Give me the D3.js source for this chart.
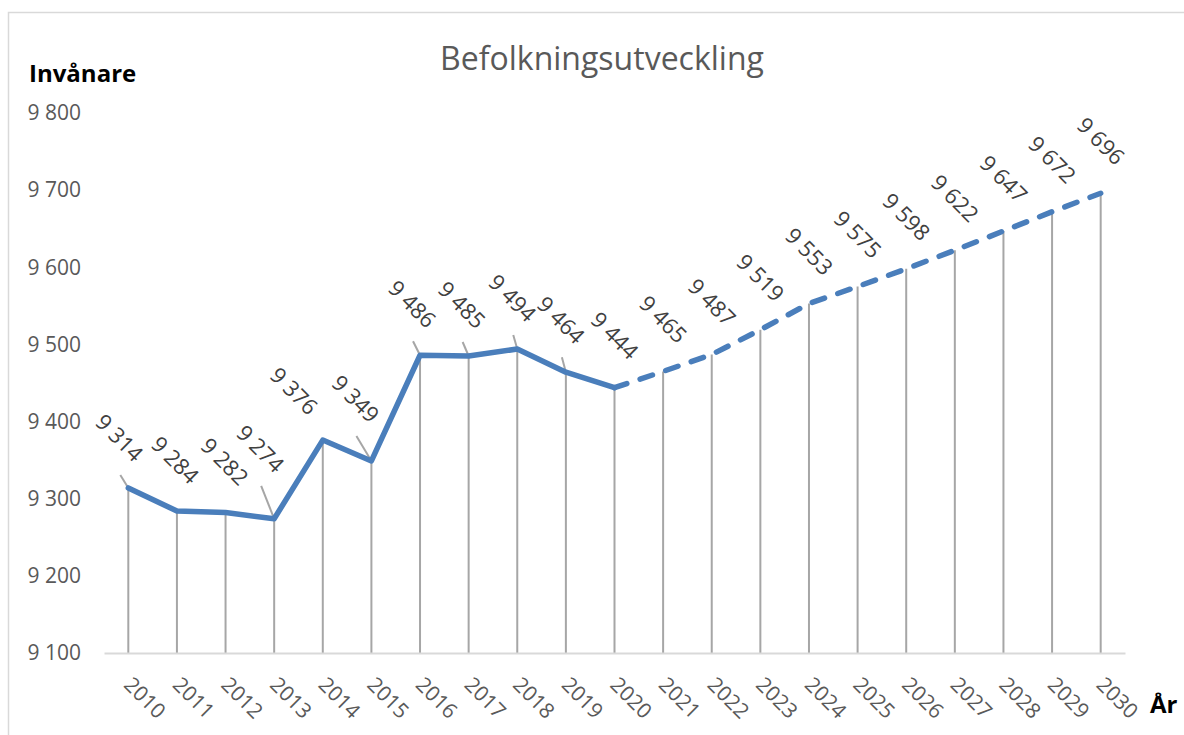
<!DOCTYPE html>
<html><head><meta charset="utf-8">
<script src="https://cdn.jsdelivr.net/npm/d3@7"></script>
<style>body{margin:0;background:#fff}svg{display:block}text{font-family:"Open Sans","Noto Sans",sans-serif}</style>
</head><body><svg id="c" width="1184" height="735"></svg>
<script>
const years = [2010,2011,2012,2013,2014,2015,2016,2017,2018,2019,2020,2021,2022,2023,2024,2025,2026,2027,2028,2029,2030];
const population = [9314,9284,9282,9274,9376,9349,9486,9485,9494,9464,9444,9465,9487,9519,9553,9575,9598,9622,9647,9672,9696];
const lastActualYear = 2020;
const yTicks = [9100,9200,9300,9400,9500,9600,9700,9800];
const title = "Befolkningsutveckling";
const yTitle = "Invånare";
const xTitle = "År";

// label layout tweaks (offsets of rotated label centre from point), leader flag
const labelLayout = {
  2010:[-9,-50,true],2011:[-2,-51,false],2012:[-1,-51,false],2013:[-14,-70,true],
  2014:[-29,-49,false],2015:[-16,-62,true],2016:[-8,-51,true],2017:[-7,-51,true],
  2018:[-5,-51,true],2019:[-5,-52,true]
};

const svg = d3.select("#c");
const data = years.map((y,i)=>({year:y,value:population[i]}));

svg.append("rect").attr("x",8.5).attr("y",12.5).attr("width",1200).attr("height",800)
  .attr("fill","none").attr("stroke","#d9d9d9").attr("stroke-width",1.5);

const x = d3.scalePoint().domain(years).range([104,1125]).padding(0.5);
const y = d3.scaleLinear().domain([9100,9800]).range([653,113]);

// title
svg.append("text").attr("x",602).attr("y",70).attr("text-anchor","middle")
  .attr("font-size",32).attr("fill","#595959").text(title);
svg.append("text").attr("x",29).attr("y",82).attr("font-size",24).attr("font-weight","bold")
  .attr("fill","#000").text(yTitle);
svg.append("text").attr("x",1150).attr("y",713).attr("font-size",24).attr("font-weight","bold")
  .attr("fill","#000").text(xTitle);

const fmt = v => d3.format(",")(v).replace(/,/g," ");

// y axis labels
const yAxis = d3.axisLeft(y).tickValues(yTicks).tickFormat(fmt).tickSize(0).tickPadding(0);
const gy = svg.append("g").attr("transform","translate(81,0)").call(yAxis);
gy.select(".domain").remove();
gy.selectAll("text").attr("font-size",21).attr("fill","#595959")
  .style("font-family",'"Open Sans","Noto Sans",sans-serif');

// drop lines
svg.append("g").selectAll("line").data(data).join("line")
  .attr("x1",d=>x(d.year)).attr("x2",d=>x(d.year))
  .attr("y1",653).attr("y2",d=>y(d.value))
  .attr("stroke","#a6a6a6").attr("stroke-width",2);

// x axis
const xAxis = d3.axisBottom(x).tickSize(0).tickPadding(0);
const gx = svg.append("g").attr("transform","translate(0,653)").call(xAxis);
gx.select(".domain").attr("stroke","#d9d9d9").attr("stroke-width",2.2);
gx.selectAll("text").attr("font-size",21).attr("fill","#595959")
  .style("font-family",'"Open Sans","Noto Sans",sans-serif')
  .attr("text-anchor","start").attr("dy",null).attr("y",0)
  .attr("transform",d=>`translate(-6,33) rotate(45)`);

// leader lines
svg.append("g").selectAll("line").data(data.filter(d=>labelLayout[d.year] && labelLayout[d.year][2])).join("line")
  .attr("x1",d=>x(d.year)).attr("y1",d=>y(d.value))
  .attr("x2",d=>x(d.year)+labelLayout[d.year][0]+1).attr("y2",d=>y(d.value)+labelLayout[d.year][1]+37)
  .attr("stroke","#a6a6a6").attr("stroke-width",2);

// lines
const line = d3.line().x(d=>x(d.year)).y(d=>y(d.value));
svg.append("path").datum(data.filter(d=>d.year<=lastActualYear)).attr("d",line)
  .attr("fill","none").attr("stroke","#4a7ebb").attr("stroke-width",5.5)
  .attr("stroke-linejoin","round").attr("stroke-linecap","round");
svg.append("path").datum(data.filter(d=>d.year>=lastActualYear)).attr("d",line)
  .attr("fill","none").attr("stroke","#4a7ebb").attr("stroke-width",5.5)
  .attr("stroke-dasharray","13,14").attr("stroke-linecap","round");

// data labels
svg.append("g").selectAll("text").data(data).join("text")
  .attr("transform",d=>{
    const o = labelLayout[d.year] || [0,-52,false];
    return `translate(${x(d.year)+o[0]},${y(d.value)+o[1]}) rotate(45)`;
  })
  .attr("text-anchor","middle").attr("dy","0.35em")
  .attr("font-size",22).attr("fill","#404040").text(d=>fmt(d.value));
</script></body></html>
